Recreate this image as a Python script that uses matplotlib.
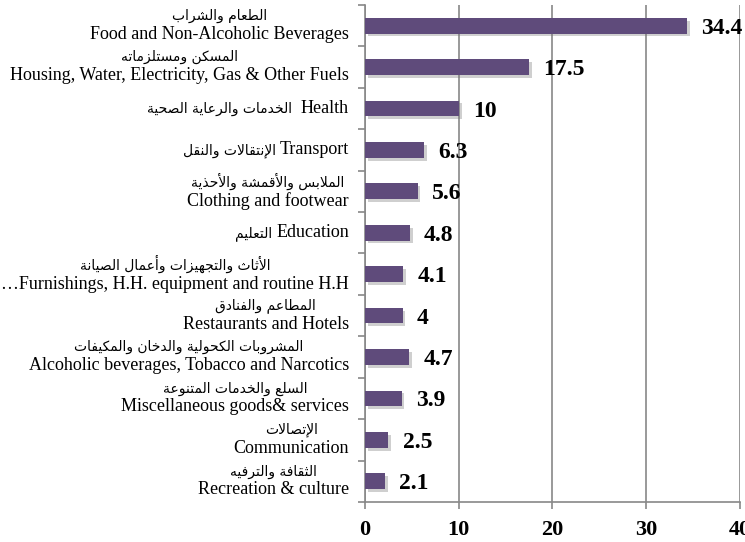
import numpy as np
import matplotlib
matplotlib.use("Agg")
import matplotlib.pyplot as plt
import matplotlib.patheffects as pe
from matplotlib.offsetbox import TextArea, VPacker, HPacker, AnnotationBbox

# category labels, top to bottom (Arabic line, English line)
arabic = [
    "الطعام والشراب",
    "المسكن ومستلزماته",
    "الخدمات والرعاية الصحية",
    "الإنتقالات والنقل",
    "الملابس والأقمشة والأحذية",
    "التعليم",
    "الأثاث والتجهيزات وأعمال الصيانة",
    "المطاعم والفنادق",
    "المشروبات الكحولية والدخان والمكيفات",
    "السلع والخدمات المتنوعة",
    "الإتصالات",
    "الثقافة والترفيه",
]
english = [
    "Food and Non-Alcoholic Beverages",
    "Housing, Water, Electricity, Gas & Other Fuels",
    "Health",
    "Transport",
    "Clothing and footwear",
    "Education",
    "…Furnishings, H.H. equipment and routine H.H",
    "Restaurants and Hotels",
    "Alcoholic beverages, Tobacco and Narcotics",
    "Miscellaneous goods& services",
    "Communication",
    "Recreation & culture",
]
one_line = [False, False, True, True, False, True, False, False, False, False, False, False]
values = [34.4, 17.5, 10, 6.3, 5.6, 4.8, 4.1, 4, 4.7, 3.9, 2.5, 2.1]
xticks = [0, 10, 20, 30, 40]

# --- minimal Arabic shaping (matplotlib has no bidi / joining support) ---
FOUR = {"ئ": 0xFE89, "ب": 0xFE8F, "ت": 0xFE95, "ث": 0xFE99, "ج": 0xFE9D, "ح": 0xFEA1,
        "خ": 0xFEA5, "س": 0xFEB1, "ش": 0xFEB5, "ص": 0xFEB9, "ض": 0xFEBD, "ط": 0xFEC1,
        "ظ": 0xFEC5, "ع": 0xFEC9, "غ": 0xFECD, "ف": 0xFED1, "ق": 0xFED5, "ك": 0xFED9,
        "ل": 0xFEDD, "م": 0xFEE1, "ن": 0xFEE5, "ه": 0xFEE9, "ي": 0xFEF1}
TWO = {"آ": 0xFE81, "أ": 0xFE83, "ؤ": 0xFE85, "إ": 0xFE87, "ا": 0xFE8D, "ة": 0xFE93,
       "د": 0xFEA9, "ذ": 0xFEAB, "ر": 0xFEAD, "ز": 0xFEAF, "و": 0xFEED, "ى": 0xFEEF}
LAMALEF = {"آ": 0xFEF5, "أ": 0xFEF7, "إ": 0xFEF9, "ا": 0xFEFB}


def shape(text):
    # tokens: (base codepoint, joins-to-next?, is-letter?)
    toks = []
    i = 0
    while i < len(text):
        c = text[i]
        if c == "ل" and i + 1 < len(text) and text[i + 1] in LAMALEF:
            toks.append((LAMALEF[text[i + 1]], False, True))
            i += 2
            continue
        if c in FOUR:
            toks.append((FOUR[c], True, True))
        elif c in TWO:
            toks.append((TWO[c], False, True))
        else:
            toks.append((c, False, False))
        i += 1
    out = []
    for k, (base, nxt, letter) in enumerate(toks):
        if not letter:
            out.append(base)
            continue
        jp = k > 0 and toks[k - 1][1]
        jn = nxt and k + 1 < len(toks) and toks[k + 1][2]
        if jp and jn:
            cp = base + 3
        elif jn:
            cp = base + 2
        elif jp:
            cp = base + 1
        else:
            cp = base
        out.append(chr(cp))
    return "".join(out)[::-1]


plt.rcParams["font.family"] = ["Liberation Serif", "DejaVu Sans"]
ar_props = dict(family="DejaVu Sans", fontsize=10, color="black")
en_props = dict(family="Liberation Serif", fontsize=13, color="black")

fig = plt.figure(figsize=(7.45, 5.42), dpi=100)
ax = fig.add_axes([0.49, 0.0738, 0.503, 0.917])

y = np.arange(len(values))
bars = ax.barh(y, values, height=0.38, color="#5F4B7B", zorder=3)
for b in bars:
    b.set_path_effects([pe.withSimplePatchShadow(offset=(2, -2), shadow_rgbFace="#777777", alpha=0.35),
                        pe.Normal()])

for yi, v in zip(y, values):
    ax.text(v + 1.5, yi + 0.06, f"{v:g}", va="center", ha="left",
            fontsize=17, fontweight="bold", family="Liberation Serif")

# two-language category labels
for yi, ar, en, single in zip(y, arabic, english, one_line):
    a = TextArea(shape(ar), textprops=ar_props)
    e = TextArea(en, textprops=en_props)
    if single:
        box = HPacker(children=[a, e], align="baseline", pad=0, sep=6 if en == "Health" else 3)
    else:
        box = VPacker(children=[a, e], align="center", pad=0, sep=2)
    ab = AnnotationBbox(box, (-0.043, yi), xycoords=ax.get_yaxis_transform(),
                        box_alignment=(1, 0.5), frameon=False, pad=0,
                        annotation_clip=False)
    ax.add_artist(ab)

ax.set_xlim(0, 40)
ax.set_ylim(len(values) - 0.5, -0.5)
ax.set_xticks(xticks)
ax.set_xticklabels([str(t) for t in xticks], fontsize=16, fontweight="bold",
                   family="Liberation Serif")
ax.set_yticks(y)
ax.set_yticklabels([])
ax.set_yticks(np.arange(len(values) + 1) - 0.5, minor=True)
ax.tick_params(axis="y", which="major", length=0)
ax.tick_params(axis="y", which="minor", length=5, color="#888888", width=1.2)
ax.tick_params(axis="x", length=5, color="#888888", width=1.2, pad=8)

ax.grid(axis="x", color="#888888", lw=1.2, zorder=0)
ax.set_axisbelow(True)
for s in ["top", "right"]:
    ax.spines[s].set_visible(False)
for s in ["left", "bottom"]:
    ax.spines[s].set_color("#888888")
    ax.spines[s].set_linewidth(1.2)

fig.savefig("out.png", dpi=100)
